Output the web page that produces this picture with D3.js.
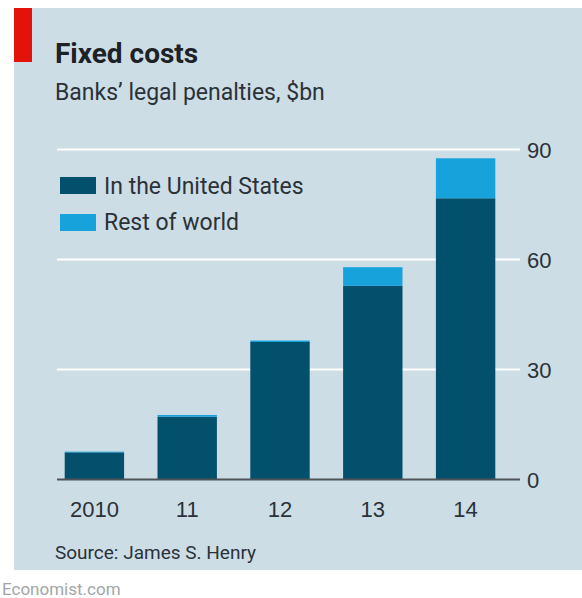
<!DOCTYPE html>
<html>
<head>
<meta charset="utf-8">
<script src="https://cdn.jsdelivr.net/npm/d3@7"></script>
<style>
  html, body { margin: 0; padding: 0; background: #ffffff; }
  svg { display: block; font-family: Roboto, "Open Sans", "DejaVu Sans", sans-serif; }
</style>
</head>
<body>
<svg id="chart" width="582" height="598"></svg>
<script>
// Banks' legal penalties, $bn
const years = ["2010", "11", "12", "13", "14"];
const unitedStates = [7.4, 17.1, 37.5, 52.8, 76.7];
const restOfWorld = [0.2, 0.5, 0.4, 5.1, 10.9];
const yTicks = [0, 30, 60, 90];
const seriesNames = ["In the United States", "Rest of world"];

const colors = {
  panel: "#cddde6",
  us: "#03506d",
  row: "#17a2db",
  text: "#2a3238",
  grid: "#ffffff",
  base: "#4e5357",
  red: "#e3120b"
};

const svg = d3.select("#chart");

// panel
svg.append("rect").attr("x", 14).attr("y", 8).attr("width", 568).attr("height", 562)
  .attr("fill", colors.panel);
svg.append("rect").attr("x", 14).attr("y", 8).attr("width", 18).attr("height", 54)
  .attr("fill", colors.red);

// titles
svg.append("text").attr("x", 55).attr("y", 63)
  .attr("font-size", 28).attr("font-weight", 700).attr("fill", "#1c2226")
  .text("Fixed costs");
svg.append("text").attr("x", 55).attr("y", 100)
  .attr("font-size", 23).attr("fill", colors.text)
  .text("Banks\u2019 legal penalties, $bn");

// scales
const x = d3.scaleBand().domain(years).range([48, 512])
  .paddingInner(0.36).paddingOuter(0.18);
const y = d3.scaleLinear().domain([0, 90]).range([479.5, 149.5]);

// gridlines
svg.append("g").selectAll("line").data(yTicks.filter(d => d > 0)).join("line")
  .attr("x1", 57).attr("x2", 520)
  .attr("y1", d => y(d)).attr("y2", d => y(d))
  .attr("stroke", colors.grid).attr("stroke-width", 2);

// stacked bars
const rows = years.map((yr, i) => ({ year: yr, us: unitedStates[i], row: restOfWorld[i] }));
const stack = d3.stack().keys(["us", "row"])(rows);
const fills = [colors.us, colors.row];
svg.append("g").selectAll("g").data(stack).join("g")
  .attr("fill", (d, i) => fills[i])
  .selectAll("rect").data(d => d).join("rect")
  .attr("x", d => x(d.data.year))
  .attr("width", x.bandwidth())
  .attr("y", d => y(d[1]))
  .attr("height", d => y(d[0]) - y(d[1]));

// baseline
svg.append("line").attr("x1", 57).attr("x2", 520)
  .attr("y1", y(0)).attr("y2", y(0))
  .attr("stroke", colors.base).attr("stroke-width", 2);

// y axis labels on the right
const yAxis = d3.axisRight(y).tickValues(yTicks).tickSize(0).tickPadding(0);
const gy = svg.append("g").attr("transform", "translate(527,0)").call(yAxis);
gy.select(".domain").remove();
gy.selectAll("text").attr("font-size", 22).attr("fill", colors.text)
  .attr("font-family", "inherit").attr("dy", "0.36em");

// x axis labels
const xAxis = d3.axisBottom(x).tickSize(0).tickPadding(0);
const gx = svg.append("g").attr("transform", "translate(0,517)").call(xAxis);
gx.select(".domain").remove();
gx.selectAll("text").attr("font-size", 22).attr("fill", colors.text)
  .attr("font-family", "inherit").attr("dy", 0);

// legend
const legend = svg.append("g");
seriesNames.forEach((name, i) => {
  legend.append("rect").attr("x", 60).attr("y", 177 + i * 37)
    .attr("width", 36).attr("height", 17).attr("fill", fills[i]);
  legend.append("text").attr("x", 104).attr("y", 194 + i * 36)
    .attr("font-size", 23).attr("fill", colors.text).text(name);
});

// source
svg.append("text").attr("x", 55).attr("y", 559)
  .attr("font-size", 19).attr("fill", colors.text)
  .text("Source: James S. Henry");
svg.append("text").attr("x", 2).attr("y", 595)
  .attr("font-size", 17).attr("fill", "#a2a6a9")
  .text("Economist.com");
</script>
</body>
</html>
